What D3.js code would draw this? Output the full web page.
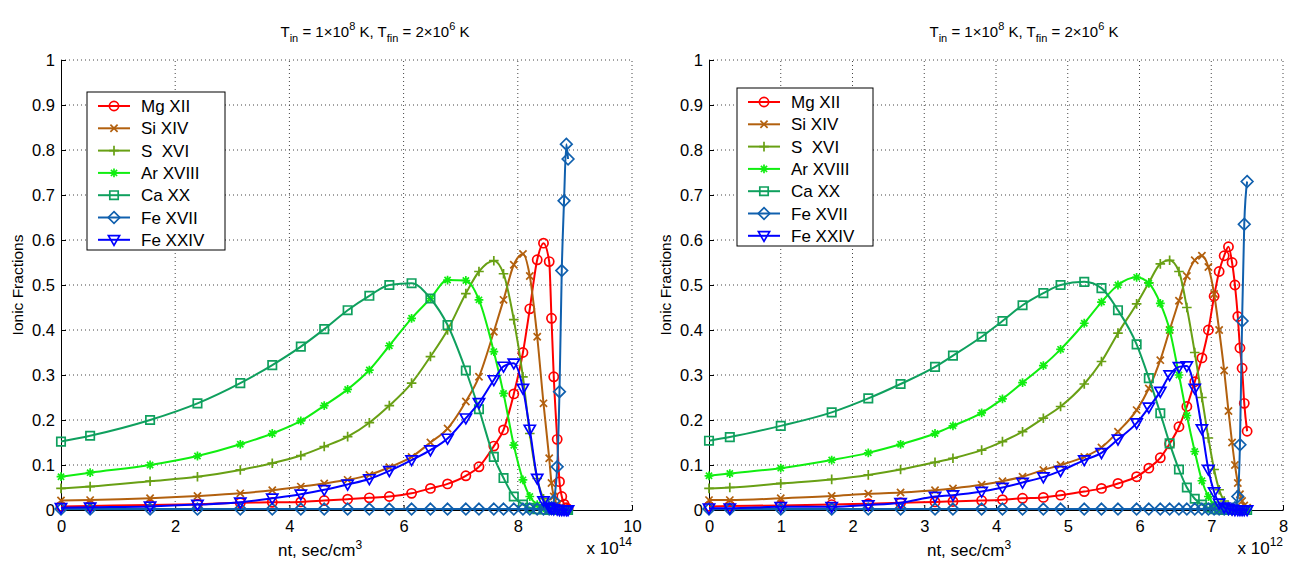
<!DOCTYPE html>
<html>
<head>
<meta charset="utf-8">
<script src="https://cdn.jsdelivr.net/npm/d3@7"></script>
<style>
  body { margin: 0; background: #fff; }
  text { font-family: "Liberation Sans", Arial, sans-serif; fill: #000; }
</style>
</head>
<body>
<svg id="chart" width="1297" height="561"></svg>
<script>
// ---- data: left panel, nt in units of 1e14 sec/cm^3 ----
const tLeft = [0, 0.51, 1.56, 2.39, 3.14, 3.70, 4.20, 4.61, 5.02, 5.40, 5.75, 6.14, 6.47, 6.77, 7.09, 7.32,
  7.58, 7.75, 7.93, 8.09, 8.21, 8.34, 8.45, 8.55, 8.59, 8.63, 8.69, 8.73, 8.77, 8.81, 8.85, 8.88];
const mgLeft = [0.008, 0.009, 0.011, 0.013, 0.016, 0.017, 0.018, 0.021, 0.024, 0.027, 0.030, 0.037, 0.048, 0.058, 0.076, 0.096,
  0.142, 0.178, 0.258, 0.35, 0.447, 0.556, 0.593, 0.552, 0.426, 0.296, 0.157, 0.063, 0.03, 0.013, 0.005, 0.002];
const siLeft = [0.021, 0.022, 0.026, 0.031, 0.037, 0.044, 0.052, 0.059, 0.067, 0.078, 0.095, 0.118, 0.15, 0.181, 0.241, 0.296,
  0.396, 0.467, 0.545, 0.569, 0.52, 0.385, 0.237, 0.115, 0.06, 0.03, 0.012, 0.005, 0.002, 0.001, 0, 0];
const sLeft = [0.048, 0.052, 0.064, 0.074, 0.089, 0.104, 0.121, 0.141, 0.163, 0.194, 0.232, 0.282, 0.341, 0.40, 0.481, 0.53,
  0.554, 0.525, 0.423, 0.296, 0.17, 0.07, 0.025, 0.009, 0.005, 0.003, 0.001, 0, 0, 0, 0, 0];
const arLeft = [0.074, 0.083, 0.10, 0.12, 0.146, 0.17, 0.198, 0.232, 0.268, 0.311, 0.365, 0.426, 0.47, 0.511, 0.51, 0.467,
  0.352, 0.259, 0.144, 0.067, 0.03, 0.012, 0.005, 0.002, 0.001, 0, 0, 0, 0, 0, 0, 0];
const caLeft = [0.152, 0.165, 0.20, 0.237, 0.282, 0.322, 0.363, 0.402, 0.444, 0.476, 0.50, 0.504, 0.47, 0.411, 0.31, 0.224,
  0.118, 0.071, 0.03, 0.012, 0.005, 0.002, 0.001, 0, 0, 0, 0, 0, 0, 0, 0, 0];
const fe17Left = [0.002, 0.002, 0.002, 0.002, 0.002, 0.002, 0.002, 0.002, 0.002, 0.002, 0.002, 0.002, 0.002, 0.002, 0.002, 0.002,
  0.002, 0.002, 0.002, 0.002, 0.002, 0.002, 0.002, 0.002, 0.005, 0.02, 0.096, 0.263, 0.532, 0.687, 0.813, 0.78];
const fe24Left = [0.005, 0.006, 0.008, 0.012, 0.017, 0.026, 0.035, 0.045, 0.057, 0.069, 0.087, 0.111, 0.133, 0.159, 0.204, 0.238,
  0.289, 0.319, 0.326, 0.27, 0.179, 0.07, 0.02, 0.006, 0.003, 0.002, 0.001, 0, 0, 0, 0, 0];

// ---- data: right panel, nt in units of 1e12 sec/cm^3 ----
const tRight = [0, 0.29, 1.0, 1.71, 2.22, 2.67, 3.15, 3.40, 3.80, 4.09, 4.37, 4.66, 4.90, 5.23, 5.47, 5.70, 5.96, 6.13,
  6.29, 6.42, 6.55, 6.66, 6.77, 6.87, 6.96, 7.04, 7.11, 7.18, 7.24, 7.29, 7.33, 7.37, 7.40, 7.43, 7.46, 7.50];
const mgRight = [0.008, 0.009, 0.01, 0.012, 0.014, 0.016, 0.018, 0.019, 0.021, 0.023, 0.026, 0.028, 0.033, 0.041, 0.048, 0.059, 0.074, 0.093,
  0.116, 0.147, 0.185, 0.23, 0.285, 0.338, 0.40, 0.475, 0.53, 0.565, 0.585, 0.55, 0.50, 0.43, 0.36, 0.315, 0.237, 0.175];
const siRight = [0.022, 0.022, 0.026, 0.031, 0.036, 0.039, 0.044, 0.048, 0.056, 0.064, 0.074, 0.089, 0.10, 0.118, 0.139, 0.174, 0.222, 0.27,
  0.333, 0.40, 0.465, 0.52, 0.555, 0.565, 0.54, 0.48, 0.40, 0.31, 0.22, 0.15, 0.10, 0.06, 0.035, 0.02, 0.01, 0.005];
const sRight = [0.048, 0.05, 0.059, 0.068, 0.078, 0.09, 0.106, 0.115, 0.133, 0.152, 0.174, 0.204, 0.23, 0.28, 0.33, 0.393, 0.458, 0.505,
  0.547, 0.555, 0.53, 0.45, 0.35, 0.25, 0.16, 0.09, 0.045, 0.02, 0.008, 0.004, 0.002, 0.001, 0, 0, 0, 0];
const arRight = [0.076, 0.081, 0.093, 0.111, 0.127, 0.146, 0.17, 0.187, 0.216, 0.247, 0.283, 0.321, 0.357, 0.415, 0.462, 0.50, 0.517, 0.504,
  0.459, 0.40, 0.30, 0.21, 0.13, 0.065, 0.03, 0.012, 0.005, 0.002, 0.001, 0, 0, 0, 0, 0, 0, 0];
const caRight = [0.154, 0.162, 0.187, 0.217, 0.248, 0.28, 0.318, 0.343, 0.385, 0.42, 0.455, 0.482, 0.50, 0.507, 0.493, 0.444, 0.368, 0.293,
  0.215, 0.148, 0.09, 0.05, 0.025, 0.012, 0.005, 0.002, 0.001, 0, 0, 0, 0, 0, 0, 0, 0, 0];
const fe17Right = [0.002, 0.002, 0.002, 0.002, 0.002, 0.002, 0.002, 0.002, 0.002, 0.002, 0.002, 0.002, 0.002, 0.002, 0.002, 0.002, 0.002, 0.002,
  0.002, 0.002, 0.002, 0.002, 0.002, 0.002, 0.002, 0.002, 0.002, 0.002, 0.002, 0.002, 0.005, 0.03, 0.145, 0.42, 0.635, 0.73];
const fe24Right = [0.004, 0.004, 0.007, 0.007, 0.011, 0.016, 0.03, 0.033, 0.041, 0.05, 0.061, 0.073, 0.087, 0.111, 0.127, 0.157, 0.193, 0.228,
  0.263, 0.30, 0.318, 0.32, 0.27, 0.18, 0.09, 0.04, 0.015, 0.006, 0.003, 0.001, 0, 0, 0, 0, 0, 0];

const ionNames = ["Mg XII", "Si XIV", "S  XVI", "Ar XVIII", "Ca XX", "Fe XVII", "Fe XXIV"];
const ionColors = ["#ff0000", "#b2600e", "#68a014", "#10ee10", "#0fa05e", "#1060ae", "#0000ff"];
const ionMarkers = ["circle", "x", "plus", "star", "square", "diamond", "tridown"];
const yTicks = [0, 0.1, 0.2, 0.3, 0.4, 0.5, 0.6, 0.7, 0.8, 0.9, 1];
const xTicksLeft = [0, 2, 4, 6, 8, 10];
const xTicksRight = [0, 1, 2, 3, 4, 5, 6, 7, 8];

const svg = d3.select("#chart");

// marker outlines, drawn around (0,0)
function markerPath(kind) {
  switch (kind) {
    case "circle": { const r = 4.6; return `M${r},0A${r},${r} 0 1,1 ${-r},0A${r},${r} 0 1,1 ${r},0Z`; }
    case "x": { const h = 3.6; return `M${-h},${-h}L${h},${h}M${-h},${h}L${h},${-h}`; }
    case "plus": { const h = 4.8; return `M${-h},0H${h}M0,${-h}V${h}`; }
    case "star": { const h = 4.4, k = 3.1; return `M${-h},0H${h}M0,${-h}V${h}M${-k},${-k}L${k},${k}M${-k},${k}L${k},${-k}`; }
    case "square": { const h = 4.2; return `M${-h},${-h}H${h}V${h}H${-h}Z`; }
    case "diamond": { const h = 5.8; return `M0,${-h}L${h},0L0,${h}L${-h},0Z`; }
    case "tridown": return "M-5.6,-4.2L5.6,-4.2L0,5.6Z";
  }
}

function drawPanel(p) {
  const x = d3.scaleLinear().domain(p.xDomain).range([p.left, p.right]);
  const y = d3.scaleLinear().domain([0, 1]).range([510, 60]);
  const g = svg.append("g");

  // dotted grid
  g.append("g").selectAll("line").data(p.xTicks.slice(1)).join("line")
      .attr("x1", d => x(d)).attr("x2", d => x(d))
      .attr("y1", y(0)).attr("y2", y(1))
      .attr("stroke", "#444").attr("stroke-width", 1).attr("stroke-dasharray", "1,3");
  g.append("g").selectAll("line").data(yTicks.slice(1)).join("line")
      .attr("x1", p.left).attr("x2", p.right)
      .attr("y1", d => y(d)).attr("y2", d => y(d))
      .attr("stroke", "#444").attr("stroke-width", 1).attr("stroke-dasharray", "1,3");

  // axes, ticks pointing inwards
  const xAxis = g.append("g").attr("transform", `translate(0,${y(0)})`)
      .call(d3.axisBottom(x).tickValues(p.xTicks).tickSizeInner(-5).tickSizeOuter(0).tickPadding(10).tickFormat(d3.format("~g")));
  const yAxis = g.append("g").attr("transform", `translate(${p.left},0)`)
      .call(d3.axisLeft(y).tickValues(yTicks).tickSizeInner(-5).tickSizeOuter(0).tickPadding(6).tickFormat(d3.format("~g")));
  [xAxis, yAxis].forEach(a => {
    a.selectAll("text").attr("font-size", 16.5).style("font-family", "'Liberation Sans', Arial, sans-serif");
    a.selectAll("path, line").attr("stroke", "#000");
  });

  // curves, then markers (later series on top)
  p.series.forEach((vals, k) => {
    const line = d3.line()
        .x((d, i) => x(p.t[i]))
        .y(d => y(d))
        .curve(d3.curveMonotoneX);
    g.append("path").datum(vals)
        .attr("d", line)
        .attr("fill", "none")
        .attr("stroke", ionColors[k])
        .attr("stroke-width", 2);
    g.append("g").selectAll("path").data(vals).join("path")
        .attr("transform", (d, i) => `translate(${x(p.t[i])},${y(d)})`)
        .attr("d", markerPath(ionMarkers[k]))
        .attr("fill", "none")
        .attr("stroke", ionColors[k])
        .attr("stroke-width", 1.7);
  });

  // title
  const title = g.append("text").attr("x", p.titleX).attr("y", 37)
      .attr("text-anchor", "middle").attr("font-size", 15);
  title.append("tspan").text("T");
  title.append("tspan").attr("font-size", 11).attr("dy", 5).text("in");
  title.append("tspan").attr("dy", -5).text(" = 1\u00d710");
  title.append("tspan").attr("font-size", 11).attr("dy", -7).text("8");
  title.append("tspan").attr("dy", 7).text(" K, T");
  title.append("tspan").attr("font-size", 11).attr("dy", 5).text("fin");
  title.append("tspan").attr("dy", -5).text(" = 2\u00d710");
  title.append("tspan").attr("font-size", 11).attr("dy", -7).text("6");
  title.append("tspan").attr("dy", 7).text(" K");

  // x label
  const xl = g.append("text").attr("x", p.xLabelX).attr("y", 556)
      .attr("text-anchor", "middle").attr("font-size", 17);
  xl.append("tspan").text("nt, sec/cm");
  xl.append("tspan").attr("font-size", 12).attr("dy", -7).text("3");

  // exponent
  const ex = g.append("text").attr("x", p.right).attr("y", 554)
      .attr("text-anchor", "end").attr("font-size", 17);
  ex.append("tspan").text("x 10");
  ex.append("tspan").attr("font-size", 12).attr("dy", -8).text(p.exponent);

  // y label
  g.append("text")
      .attr("transform", `translate(${p.yLabelX},285) rotate(-90)`)
      .attr("text-anchor", "middle").attr("font-size", 15.5)
      .text("Ionic Fractions");

  // legend
  const L = p.legend;
  g.append("rect").attr("x", L.x).attr("y", L.y).attr("width", L.w).attr("height", L.h)
      .attr("fill", "#fff").attr("stroke", "#000").attr("stroke-width", 1);
  ionNames.forEach((name, k) => {
    const yy = L.y + 14 + k * 22.3;
    g.append("line").attr("x1", L.x + 11).attr("x2", L.x + 43).attr("y1", yy).attr("y2", yy)
        .attr("stroke", ionColors[k]).attr("stroke-width", 2);
    g.append("path").attr("transform", `translate(${L.x + 27},${yy})`)
        .attr("d", markerPath(ionMarkers[k]))
        .attr("fill", "none").attr("stroke", ionColors[k]).attr("stroke-width", 1.7);
    g.append("text").attr("x", L.x + 54).attr("y", yy + 6)
        .attr("font-size", 17).attr("xml:space", "preserve").style("white-space", "pre")
        .text(name);
  });
}

drawPanel({
  left: 61, right: 632, xDomain: [0, 10], xTicks: xTicksLeft, t: tLeft,
  series: [mgLeft, siLeft, sLeft, arLeft, caLeft, fe17Left, fe24Left],
  titleX: 375, xLabelX: 320, yLabelX: 23, exponent: "14",
  legend: { x: 87, y: 92, w: 138, h: 158 }
});
drawPanel({
  left: 709, right: 1283, xDomain: [0, 8], xTicks: xTicksRight, t: tRight,
  series: [mgRight, siRight, sRight, arRight, caRight, fe17Right, fe24Right],
  titleX: 1024, xLabelX: 969, yLabelX: 671, exponent: "12",
  legend: { x: 737, y: 88, w: 136, h: 158 }
});
</script>
</body>
</html>
